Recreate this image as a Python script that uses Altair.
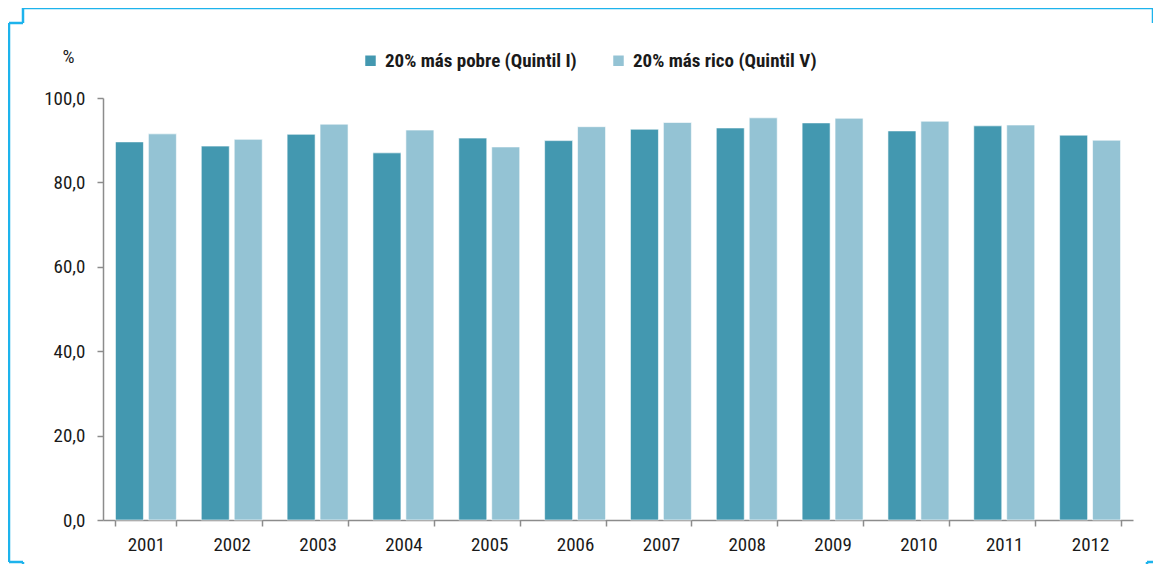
import altair as alt
import pandas as pd

years = ["2001", "2002", "2003", "2004", "2005", "2006", "2007", "2008", "2009", "2010", "2011", "2012"]
pobre = [89.6, 88.6, 91.4, 87.0, 90.5, 89.9, 92.6, 92.9, 94.1, 92.2, 93.4, 91.2]
rico = [91.5, 90.2, 93.8, 92.4, 88.4, 93.2, 94.2, 95.3, 95.2, 94.5, 93.6, 90.0]
series = ["20% más pobre (Quintil I)", "20% más rico (Quintil V)"]
colors = ["#4398B0", "#94C3D4"]

rows = []
for i, y in enumerate(years):
    rows.append({"year": y, "serie": series[0], "value": pobre[i]})
    rows.append({"year": y, "serie": series[1], "value": rico[i]})
df = pd.DataFrame(rows)

FONT = "Liberation Sans Narrow, Roboto Condensed, DejaVu Sans Condensed, sans-serif"

bars = alt.Chart(df).mark_bar(stroke="white", strokeWidth=0.6).encode(
    x=alt.X("year:N", sort=years,
            scale=alt.Scale(paddingInner=0.29, paddingOuter=0.145),
            axis=alt.Axis(title=None, labelAngle=0, tickBand="extent", domainColor="#8c8c8c",
                          tickColor="#8c8c8c", tickSize=6, labelPadding=9, labelFontSize=19,
                          labelFont=FONT, labelFontWeight="normal", labelColor="#1a1a1a",
                          grid=False, domainWidth=1.5, tickWidth=1.5)),
    xOffset=alt.XOffset("serie:N", sort=series, scale=alt.Scale(paddingInner=0.15)),
    y=alt.Y("value:Q", scale=alt.Scale(domain=[0, 100]),
            axis=alt.Axis(values=[0, 20, 40, 60, 80, 100], title="%", titleAngle=0,
                          titleX=-35, titleY=-32, titleFont=FONT, titleFontSize=19,
                          titleFontWeight="normal", titleColor="#1a1a1a",
                          labelExpr="replace(format(datum.value, '.1f'), '.', ',')",
                          labelFont=FONT, labelFontSize=19, labelColor="#1a1a1a",
                          domainColor="#8c8c8c", tickColor="#8c8c8c", tickSize=6,
                          labelPadding=12, grid=False, domainWidth=1.5, tickWidth=1.5)),
    color=alt.Color("serie:N", sort=series,
                    scale=alt.Scale(domain=series, range=colors),
                    legend=alt.Legend(title=None, orient="none", legendX=258, legendY=-47,
                                      direction="horizontal", symbolType="square",
                                      symbolSize=110, symbolStrokeWidth=0, labelLimit=0,
                                      labelFont=FONT, labelFontSize=19, labelFontWeight="bold",
                                      labelColor="#1a1a1a", columnPadding=32, labelOffset=5)),
)

# decorative frame (pixel offsets relative to plot origin)
frame = pd.DataFrame([
    {"x": -80, "x2": 1050, "y": -90, "y2": -90},
    {"x": 1050, "x2": 1050, "y": -90, "y2": -75},
    {"x": 1050, "x2": 1060, "y": -75, "y2": -75},
    {"x": -80, "x2": -80, "y": -90, "y2": -75},
    {"x": -94, "x2": -80, "y": -75, "y2": -75},
    {"x": -94, "x2": -94, "y": -75, "y2": 464},
    {"x": -94, "x2": -80, "y": 464, "y2": 464},
    {"x": -80, "x2": -80, "y": 464, "y2": 470},
    {"x": 1044, "x2": 1052, "y": 464, "y2": 464},
    {"x": 1044, "x2": 1044, "y": 464, "y2": 470},
])
border = alt.Chart(frame).mark_rule(color="#1DB3EC", strokeWidth=2.5).encode(
    x=alt.X("x:Q", scale=None), x2="x2:Q",
    y=alt.Y("y:Q", scale=None), y2="y2:Q",
)

chart = alt.layer(bars, border).properties(
    width=1030, height=422,
    autosize=alt.AutoSizeParams(type="none"),
    padding={"left": 95, "top": 90, "right": 20, "bottom": 44},
).configure_view(stroke=None)

chart.save("out.html", embed_options={"renderer": "svg", "actions": False})
